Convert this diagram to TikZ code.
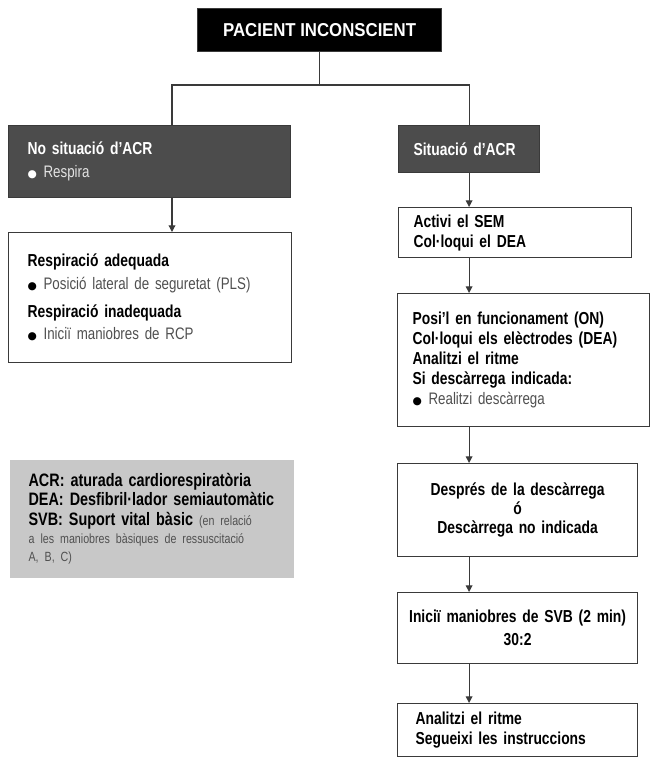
\documentclass[tikz,border=0pt]{standalone}
\usepackage{fontspec}
\setmainfont{Liberation Sans}[FakeStretch=0.8]
\newfontfamily\titlefont{Liberation Sans}[FakeStretch=0.9]
\newfontfamily\dotfont{DejaVu Sans}
\usepackage{tikz}
\usetikzlibrary{arrows.meta}
\definecolor{boxgray}{HTML}{4C4C4C}
\definecolor{legendgray}{HTML}{C8C8C8}
\definecolor{linegray}{HTML}{3A3A3A}
\definecolor{subgray}{HTML}{505050}
\definecolor{lightsub}{HTML}{E2E2E2}
\newcommand\tightspace{\spaceskip=2.2pt plus 1pt minus 0.5pt\relax}
\newcommand\bitem[3][black]{{\dotfont\fontsize{8}{8}\selectfont\textcolor{#1}{●}}\hspace{5pt}{\mdseries\fontsize{12.5}{15}\selectfont\color{#2}#3}}
\newcommand\smallnote[1]{{\mdseries\fontsize{10}{12}\selectfont\color{subgray}#1}}

\begin{document}
\begin{tikzpicture}[x=0.75pt, y=-0.75pt,
	box/.style={draw=linegray, line width=0.9pt, anchor=north west, inner xsep=11.25pt, inner ysep=0pt, align=left, font=\fontsize{13}{15}\selectfont\bfseries\tightspace},
	darkbox/.style={box, fill=boxgray, text=white},
	link/.style={draw=linegray, line width=0.9pt},
	arrow/.style={link, -{Triangle[length=5pt, width=5pt]}}]
	\useasboundingbox (0,0) rectangle (650,758);
	% top and the two branches
	\node[box, fill=black, text=white, align=center, minimum width=183pt, minimum height=32.25pt, font=\titlefont\fontsize{14}{15}\selectfont\bfseries] (top) at (197,8) {PACIENT INCONSCIENT};
	\node[darkbox, inner xsep=14.25pt, text width=183pt, minimum height=54pt] (noacr) at (8,125) {No situació d'ACR\\[2pt] \bitem[white]{lightsub}{Respira}};
	\node[darkbox, text width=83.25pt, minimum height=35.25pt] (acr) at (398,125) {Situació d'ACR};
	% left column
	\node[box, inner xsep=14.25pt, text width=183.75pt, minimum height=97.5pt] (resp) at (8,232) {Respiració adequada\\[2pt] \bitem{subgray}{Posició lateral de seguretat (PLS)}\\[6pt] Respiració inadequada\\[2pt] \bitem{subgray}{Iniciï maniobres de RCP}};
	\node[box, draw=none, fill=legendgray, inner xsep=14.25pt, text width=184.5pt, minimum height=88.5pt, font=\fontsize{13.5}{14.5}\selectfont\bfseries\tightspace] (legend) at (9,459) {ACR: aturada cardiorespiratòria\\ DEA: Desfibril·lador semiautomàtic\\ SVB: Suport vital bàsic \smallnote{(en relació}\\[-1pt] \smallnote{a les maniobres bàsiques de ressuscitació}\\[-1pt] \smallnote{A, B, C)}};
	% right column
	\node[box, text width=152.25pt, minimum height=37.5pt] (sem) at (398,207) {Activi el SEM\\ Col·loqui el DEA};
	\node[box, text width=166.5pt, minimum height=99.75pt] (dea) at (397,293) {Posi'l en funcionament (ON)\\ Col·loqui els elèctrodes (DEA)\\ Analitzi el ritme\\ Si descàrrega indicada:\\ \bitem{subgray}{Realitzi descàrrega}};
	\node[box, align=center, inner xsep=4pt, text width=172pt, minimum height=69.75pt] (desc) at (397,463) {Després de la descàrrega\\[-1pt] ó\\[-1pt] Descàrrega no indicada};
	\node[box, align=center, inner xsep=4pt, text width=172pt, minimum height=53.25pt] (svb) at (397,592) {Iniciï maniobres de SVB (2 min)\\[2pt] 30:2};
	\node[box, inner xsep=13.5pt, text width=153pt, minimum height=39.75pt] (anal) at (397,703) {Analitzi el ritme\\ Segueixi les instruccions};
	% connectors
	\coordinate (lsplit) at (172,85);
	\draw[link] (top.south) -- (top.south |- lsplit);
	\draw[link] (lsplit |- noacr.north) -- (lsplit) -- (acr.north |- lsplit) -- (acr.north);
	\draw[arrow] (lsplit |- noacr.south) -- (lsplit |- resp.north);
	\draw[arrow] (acr.south) -- (acr.south |- sem.north);
	\draw[arrow] (acr.south |- sem.south) -- (acr.south |- dea.north);
	\draw[arrow] (acr.south |- dea.south) -- (acr.south |- desc.north);
	\draw[arrow] (acr.south |- desc.south) -- (acr.south |- svb.north);
	\draw[arrow] (acr.south |- svb.south) -- (acr.south |- anal.north);
\end{tikzpicture}
\end{document}
